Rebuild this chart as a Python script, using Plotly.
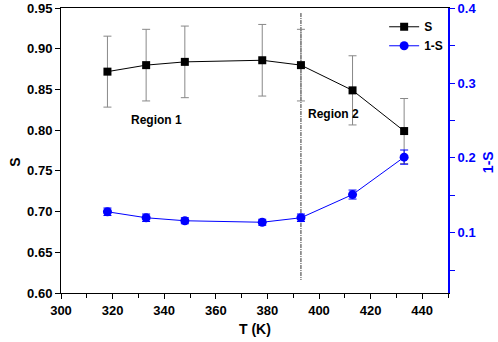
import plotly.graph_objects as go

T = [318, 333, 348, 378, 393, 413, 433]
S = [0.872, 0.880, 0.884, 0.886, 0.880, 0.849, 0.799]
S_err = [0.0436, 0.044, 0.044, 0.044, 0.044, 0.0425, 0.040]
one_minus_S = [0.128, 0.120, 0.116, 0.114, 0.120, 0.151, 0.201]
one_minus_S_err = [0.005, 0.005, 0.004, 0.004, 0.005, 0.006, 0.0095]
boundary_T = 393
boundary_S = [0.944, 0.616]
x_ticks = [300, 320, 340, 360, 380, 400, 420, 440]
left_ticks = [0.60, 0.65, 0.70, 0.75, 0.80, 0.85, 0.90, 0.95]
right_ticks = [0.1, 0.2, 0.3, 0.4]

FONT = "Liberation Sans"
fig = go.Figure()

fig.add_trace(go.Scatter(
    x=[boundary_T, boundary_T], y=boundary_S, mode="lines",
    line=dict(color="#333333", width=1, dash="4px,1px,1px,1px"),
    showlegend=False, hoverinfo="skip"))

fig.add_trace(go.Scatter(
    x=T, y=S, name="<b>S</b>", mode="lines+markers",
    line=dict(color="black", width=1),
    marker=dict(symbol="square", size=8, color="black"),
    error_y=dict(type="data", array=S_err, color="#888888", thickness=1, width=4)))

fig.add_trace(go.Scatter(
    x=T, y=one_minus_S, name="<b>1-S</b>", mode="lines+markers", yaxis="y2",
    line=dict(color="#0000ff", width=1),
    marker=dict(symbol="circle", size=9, color="#0000ff"),
    error_y=dict(type="data", array=one_minus_S_err, color="#0000ff", thickness=1, width=4)))

fig.add_annotation(x=337, y=0.8127, text="<b>Region 1</b>", showarrow=False,
                   font=dict(family=FONT, size=12, color="black"))
fig.add_annotation(x=405.5, y=0.8204, text="<b>Region 2</b>", showarrow=False,
                   font=dict(family=FONT, size=12, color="black"))

# axis titles
fig.add_annotation(xref="paper", yref="paper", x=0.5, y=-0.128,
                   xanchor="center", yanchor="middle",
                   text="<b>T (K)</b>", showarrow=False,
                   font=dict(family=FONT, size=14, color="black"))
fig.add_annotation(xref="paper", yref="paper", x=-0.119, y=0.46, textangle=-90,
                   xanchor="center", yanchor="middle",
                   text="<b>S</b>", showarrow=False,
                   font=dict(family=FONT, size=14, color="black"))
fig.add_annotation(xref="paper", yref="paper", x=1.104, y=0.46, textangle=-90,
                   xanchor="center", yanchor="middle",
                   text="<b>1-S</b>", showarrow=False,
                   font=dict(family=FONT, size=14, color="#0000ff"))

fig.update_layout(
    width=498, height=342,
    margin=dict(l=61, r=50, t=8, b=49),
    paper_bgcolor="white", plot_bgcolor="white",
    font=dict(family=FONT, size=12, color="black"),
    showlegend=True,
    legend=dict(x=0.835, y=0.985, xanchor="left", yanchor="top",
                bgcolor="rgba(0,0,0,0)", font=dict(family=FONT, size=12),
                tracegroupgap=0, itemwidth=30),
    xaxis=dict(range=[300, 450], tickvals=x_ticks, automargin=False,
               ticktext=[f"<b>{v}</b>" for v in x_ticks],
               tickfont=dict(size=13), ticklabeloverflow="allow",
               showgrid=False, zeroline=False,
               showline=True, linecolor="black", linewidth=1, mirror=True,
               ticks="outside", ticklen=5, tickcolor="black",
               minor=dict(dtick=10, ticks="outside", ticklen=4, tickcolor="black")),
    yaxis=dict(range=[0.60, 0.9502], tickvals=left_ticks, automargin=False,
               ticktext=[f"<b>{v:.2f}</b>" for v in left_ticks],
               tickfont=dict(size=13), ticklabeloverflow="allow",
               showgrid=False, zeroline=False,
               showline=True, linecolor="black", linewidth=1,
               ticks="outside", ticklen=5, tickcolor="black"),
    yaxis2=dict(range=[0.0195, 0.4002], overlaying="y", side="right", automargin=False,
                tickvals=right_ticks,
                ticktext=[f"<b>{v:.1f}</b>" for v in right_ticks],
                tickfont=dict(color="#0000ff", size=13), ticklabeloverflow="allow",
                showgrid=False, zeroline=False,
                showline=True, linecolor="#0000ff", linewidth=2,
                ticks="outside", ticklen=5, tickcolor="#0000ff",
                minor=dict(dtick=0.05, tick0=0.0, ticks="outside", ticklen=5, tickcolor="#0000ff")),
)

fig.write_html("out.html", config={"displayModeBar": False},
               post_script="document.body.style.margin='0';")
